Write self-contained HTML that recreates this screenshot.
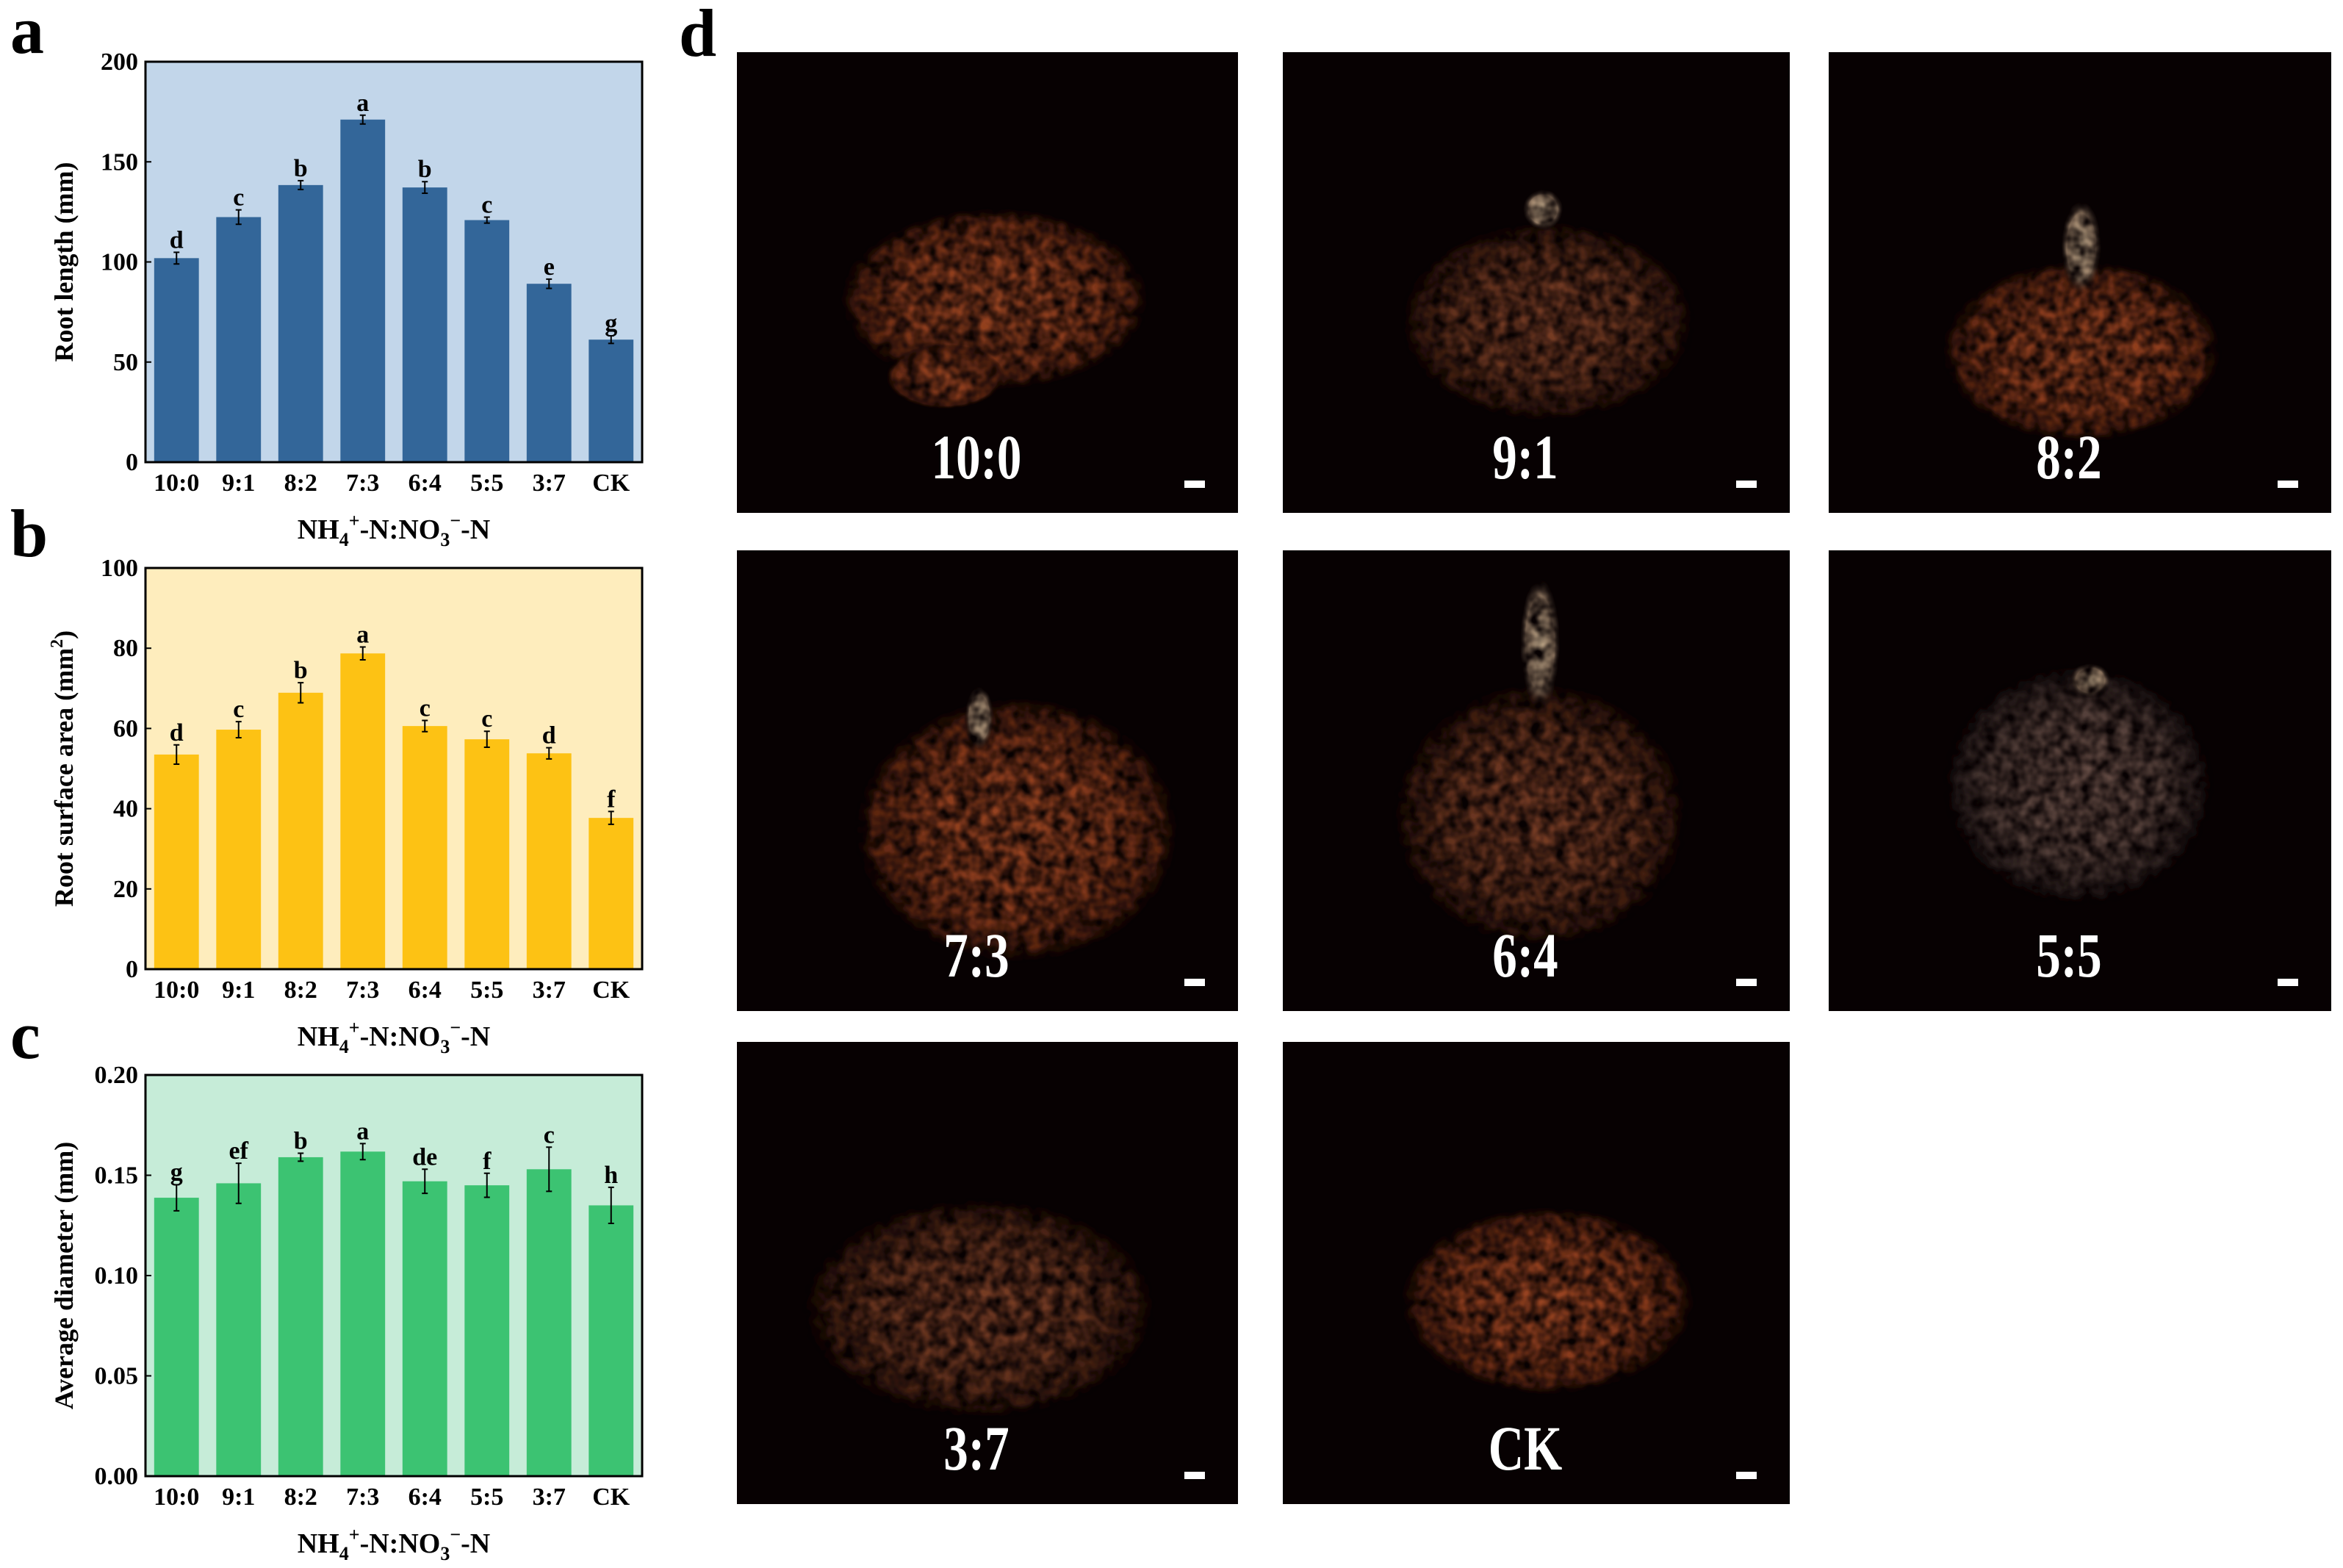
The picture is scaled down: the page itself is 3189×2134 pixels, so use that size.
<!DOCTYPE html>
<html><head><meta charset="utf-8"><style>
html,body{margin:0;padding:0;background:#fff;}
svg{display:block;font-family:"Liberation Serif",serif;font-weight:bold;}
</style></head><body>
<svg id="fig" width="3189" height="2134" viewBox="0 0 3189 2134" xmlns="http://www.w3.org/2000/svg">
<defs>
<radialGradient id="rootOrange" cx="50%" cy="50%" r="50%"><stop offset="0" stop-color="#9a4522"/><stop offset="0.6" stop-color="#8a3b1c"/><stop offset="0.88" stop-color="#5a2410"/><stop offset="1" stop-color="#070102" stop-opacity="0"/></radialGradient>
<radialGradient id="rootBrown" cx="50%" cy="50%" r="50%"><stop offset="0" stop-color="#7a3e26"/><stop offset="0.6" stop-color="#66331e"/><stop offset="0.88" stop-color="#3a1a0e"/><stop offset="1" stop-color="#070102" stop-opacity="0"/></radialGradient>
<radialGradient id="rootGray" cx="50%" cy="50%" r="50%"><stop offset="0" stop-color="#6a5048"/><stop offset="0.6" stop-color="#54403a"/><stop offset="0.88" stop-color="#2a1f1e"/><stop offset="1" stop-color="#070102" stop-opacity="0"/></radialGradient>
<radialGradient id="stem" cx="50%" cy="50%" r="50%"><stop offset="0" stop-color="#c8b090"/><stop offset="0.7" stop-color="#9a8068"/><stop offset="1" stop-color="#070102" stop-opacity="0"/></radialGradient>
<filter id="tex" x="-10%" y="-10%" width="120%" height="120%"><feTurbulence type="fractalNoise" baseFrequency="0.06" numOctaves="2" seed="3" result="n"/><feColorMatrix in="n" type="matrix" values="0 0 0 0 0  0 0 0 0 0  0 0 0 0 0  0 0 0 -1.6 1.3" result="m"/><feComposite in="SourceGraphic" in2="m" operator="in"/></filter>
</defs>
<text x="14" y="72" font-size="92">a</text>
<text x="14" y="757" font-size="92">b</text>
<text x="14" y="1440" font-size="92">c</text>
<text x="924" y="76" font-size="92">d</text>
<g id="chartA"></g>
<g id="chartB"></g>
<g id="chartC"></g>
<g id="photos"></g>
</svg>
<script>
const categories = ["10:0","9:1","8:2","7:3","6:4","5:5","3:7","CK"];
const rootLength = [101.9,122.4,138.4,171.1,137.2,120.9,89.1,61.2];
const rootLengthErr = [2.9,3.6,2.2,2.2,2.9,1.5,2.3,1.9];
const rootLengthLetters = ["d","c","b","a","b","c","e","g"];
const rootLengthTicks = [0,50,100,150,200];
const surfaceArea = [53.5,59.7,68.9,78.7,60.6,57.3,53.8,37.7];
const surfaceAreaErr = [2.4,2.0,2.5,1.6,1.4,2.0,1.4,1.6];
const surfaceAreaLetters = ["d","c","b","a","c","c","d","f"];
const surfaceAreaTicks = [0,20,40,60,80,100];
const diameter = [0.1388,0.146,0.159,0.1618,0.147,0.145,0.153,0.135];
const diameterErr = [0.0065,0.010,0.002,0.004,0.006,0.006,0.011,0.009];
const diameterLetters = ["g","ef","b","a","de","f","c","h"];
const diameterTicks = [0,0.05,0.10,0.15,0.20];
const photoLabels = ["10:0","9:1","8:2","7:3","6:4","5:5","3:7","CK"];

const NS = "http://www.w3.org/2000/svg";
function mk(parent, tag, attrs, text) {
  const e = document.createElementNS(NS, tag);
  for (const k in attrs) e.setAttribute(k, attrs[k]);
  if (text !== undefined) e.textContent = text;
  parent.appendChild(e);
  return e;
}

function drawChart(gid, top, bottom, vals, errs, letters, ticks, tickFmt, bg, barColor, titleParts) {
  const g = document.getElementById(gid);
  const left = 198, right = 874;
  const ymin = ticks[0], ymax = ticks[ticks.length - 1];
  const yScale = v => bottom - (v - ymin) / (ymax - ymin) * (bottom - top);
  const pitch = (right - left) / categories.length;
  const xScale = i => left + pitch * (i + 0.5);
  const bw = pitch * 0.72;
  const bgRect = mk(g, "rect", {x: left, y: top, width: right - left, height: bottom - top, fill: bg});
  
  
  vals.forEach((v, i) => {
    const cx = xScale(i);
    const bar = mk(g, "rect", {x: cx - bw / 2, y: yScale(v), width: bw, height: bottom - yScale(v), fill: barColor});
    
    
    const eTop = yScale(v + errs[i]), eBot = yScale(v - errs[i]);
    const eb = mk(g, "path", {d: `M${cx},${eTop}V${eBot}M${cx-4},${eTop}H${cx+4}M${cx-4},${eBot}H${cx+4}`, stroke: "#000", "stroke-width": 2, fill: "none"});
    
    
    const lt = mk(g, "text", {x: cx, y: eTop - 6, "font-size": 34, "text-anchor": "middle"}, letters[i]);
    
    
    const cl = mk(g, "text", {x: cx, y: bottom + 39, "font-size": 34, "text-anchor": "middle"}, categories[i]);
    
    
  });
  ticks.forEach(t => {
    const y = yScale(t);
    const tk = mk(g, "line", {x1: left, x2: left + 8, y1: y, y2: y, stroke: "#000", "stroke-width": 2});
    
    
    const tl = mk(g, "text", {x: left - 10, y: y + 11, "font-size": 34, "text-anchor": "end"}, tickFmt(t));
    
    
  });
  const frame = mk(g, "rect", {x: left, y: top, width: right - left, height: bottom - top, fill: "none", stroke: "#000", "stroke-width": 3});
  
  
  const yt = mk(g, "text", {x: 0, y: 0, "font-size": 36, "text-anchor": "middle", transform: `translate(99,${(top + bottom) / 2}) rotate(-90)`});
  
  
  titleParts.forEach(p => { mk(yt, "tspan", p.a || {}, p.t); });
  const xt = mk(g, "text", {x: 536, y: bottom + 104, "font-size": 38, "text-anchor": "middle"});
  
  
  mk(xt, "tspan", {}, "NH");
  mk(xt, "tspan", {"font-size": 26, dy: 10}, "4");
  mk(xt, "tspan", {"font-size": 26, dy: -26}, "+");
  mk(xt, "tspan", {dy: 16}, "-N:NO");
  mk(xt, "tspan", {"font-size": 26, dy: 10}, "3");
  mk(xt, "tspan", {"font-size": 26, dy: -26}, "\u2212");
  mk(xt, "tspan", {dy: 16}, "-N");
}

drawChart("chartA", 84, 629, rootLength, rootLengthErr, rootLengthLetters, rootLengthTicks, t => String(t), "#c2d6ea", "#336699", [{t: "Root length (mm)"}]);
drawChart("chartB", 773, 1319, surfaceArea, surfaceAreaErr, surfaceAreaLetters, surfaceAreaTicks, t => String(t), "#feedbd", "#fdc214", [{t: "Root surface area (mm"}, {t: "2", a: {"font-size": 24, dy: -14}}, {t: ")", a: {dy: 14}}]);
drawChart("chartC", 1463, 2009, diameter, diameterErr, diameterLetters, diameterTicks, t => t.toFixed(2), "#c6ecd8", "#3cc372", [{t: "Average diameter (mm)"}]);

// photo panels
const pg = document.getElementById("photos");
const cols = [[1003, 1685], [1746, 2436], [2489, 3173]];
const rows = [[71, 698], [749, 1376], [1418, 2047]];
const blobs = [
  [[665,200,105,62,"rootOrange"],[632,252,40,22,"rootOrange"]],
  [[1035,215,100,68,"rootBrown"],[1032,140,14,14,"stem"]],
  [[1392,235,95,62,"rootOrange"],[1392,165,14,32,"stem"]],
  [[680,555,110,90,"rootOrange"],[655,480,10,22,"stem"]],
  [[1030,545,100,90,"rootBrown"],[1030,430,14,45,"stem"]],
  [[1390,525,92,82,"rootGray"],[1398,455,14,12,"stem"]],
  [[655,875,120,75,"rootBrown"]],
  [[1035,870,100,64,"rootOrange"]]
];
photoLabels.forEach((lab, i) => {
  const c = cols[i % 3], r = rows[Math.floor(i / 3)];
  const grp = mk(pg, "g", {});
  
  
  mk(grp, "rect", {x: c[0], y: r[0], width: c[1] - c[0], height: r[1] - r[0], fill: "#070102"});
  const bg2 = mk(grp, "g", {filter: "url(#tex)"});
  blobs[i].forEach(b => {
    mk(bg2, "ellipse", {cx: b[0] * 2.035, cy: b[1] * 2.035, rx: b[2] * 2.035, ry: b[3] * 2.035, fill: `url(#${b[4]})`});
  });
  const cx = (c[0] + c[1]) / 2 - 15;
  const t = mk(grp, "text", {x: 0, y: 0, "font-size": 86, fill: "#fff", "text-anchor": "middle", transform: `translate(${cx},${r[1] - 47}) scale(0.78,1)`}, lab);
  
  
  const sb = mk(grp, "rect", {x: c[1] - 73, y: r[1] - 44, width: 28, height: 10, fill: "#fff"});
  
  
});
</script>
</body></html>
